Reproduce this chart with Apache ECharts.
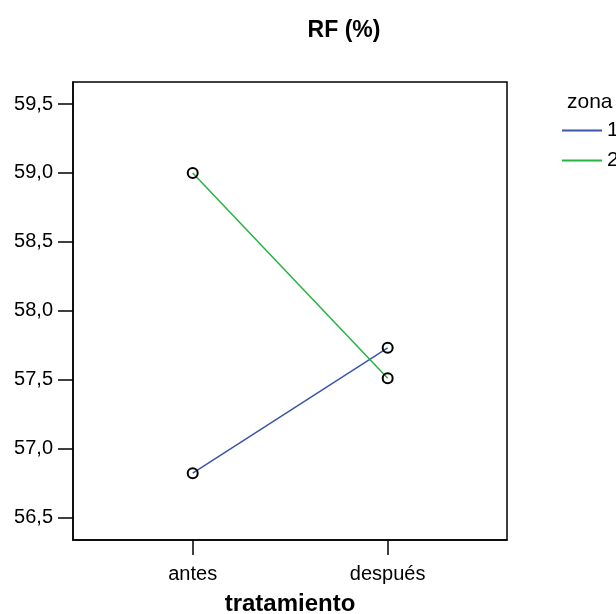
<!DOCTYPE html>
<html>
<head>
<meta charset="utf-8">
<script src="https://cdn.jsdelivr.net/npm/echarts@6/dist/echarts.min.js"></script>
<style>
  html, body { margin: 0; padding: 0; background: #fff; overflow: hidden; }
  #main { width: 616px; height: 614px; }
</style>
</head>
<body>
<div id="main"></div>
<script>
var categories = ['antes', 'después']
var zona1 = [56.82, 57.73]
var zona2 = [59.0, 57.51]
var yTicks = [56.5, 57.0, 57.5, 58.0, 58.5, 59.0, 59.5]

var font = '"Liberation Sans", Arial, sans-serif'
var chart = echarts.init(document.getElementById('main'))

function pts(vals) {
  return vals.map(function (v, i) { return [i, v] })
}

chart.setOption({
  animation: false,
  title: [
    {
      text: 'RF (%)',
      left: 339,
      top: 14,
      textAlign: 'center',
      textStyle: { fontFamily: font, fontSize: 23, fontWeight: 'bold', color: '#000' }
    },
    {
      text: 'zona',
      left: 562,
      top: 87,
      textStyle: { fontFamily: font, fontSize: 21, fontWeight: 'normal', color: '#000' }
    }
  ],
  legend: {
    left: 557,
    top: 115,
    orient: 'vertical',
    icon: 'rect',
    itemWidth: 40,
    itemHeight: 2,
    itemGap: 9,
    textStyle: { fontFamily: font, fontSize: 21, color: '#000', lineHeight: 20 },
    data: [
      { name: '1', itemStyle: { color: '#3b55a8', borderWidth: 0 } },
      { name: '2', itemStyle: { color: '#27b244', borderWidth: 0 } }
    ]
  },
  grid: {
    left: 73,
    right: 109,
    top: 82,
    bottom: 74,
    outerBoundsMode: 'none',
    containLabel: false,
    show: true,
    borderColor: '#000',
    borderWidth: 1.5
  },
  xAxis: {
    type: 'value',
    min: -0.614,
    max: 1.612,
    name: 'tratamiento',
    nameLocation: 'middle',
    nameGap: 52,
    nameTextStyle: { fontFamily: font, fontSize: 24, fontWeight: 'bold', color: '#000' },
    splitLine: { show: false },
    axisLine: { show: true, onZero: false, lineStyle: { color: '#000', width: 1.5 } },
    axisTick: { show: true, length: 15, customValues: [0, 1], lineStyle: { color: '#000', width: 1.5 } },
    axisLabel: {
      customValues: [0, 1],
      margin: 24,
      fontFamily: font,
      fontSize: 20,
      color: '#000',
      formatter: function (v) { return categories[Math.round(v)] }
    }
  },
  yAxis: {
    type: 'value',
    min: 56.335,
    max: 59.66,
    splitLine: { show: false },
    axisLine: { show: true, onZero: false, lineStyle: { color: '#000', width: 1.5 } },
    axisTick: { show: true, length: 15, customValues: yTicks, lineStyle: { color: '#000', width: 1.5 } },
    axisLabel: {
      customValues: yTicks,
      margin: 20,
      fontFamily: font,
      fontSize: 20,
      color: '#000',
      formatter: function (v) { return v.toFixed(1).replace('.', ',') }
    }
  },
  series: [
    {
      name: '1',
      type: 'line',
      data: pts(zona1),
      symbol: 'circle',
      symbolSize: 10,
      lineStyle: { color: '#3b55a8', width: 1.5 },
      itemStyle: { color: 'transparent', borderColor: '#000', borderWidth: 2 }
    },
    {
      name: '2',
      type: 'line',
      data: pts(zona2),
      symbol: 'circle',
      symbolSize: 10,
      lineStyle: { color: '#27b244', width: 1.5 },
      itemStyle: { color: 'transparent', borderColor: '#000', borderWidth: 2 }
    }
  ]
})
</script>
</body>
</html>
